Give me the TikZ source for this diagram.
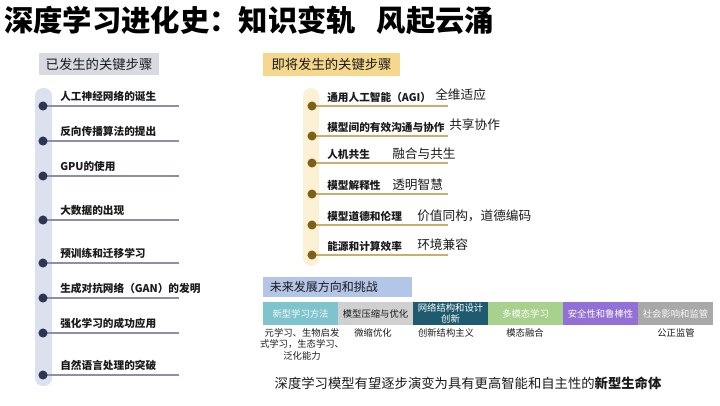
\documentclass[tikz,border=0pt]{standalone}
\usepackage{fontspec}
\setmainfont{Noto Sans CJK SC}
\definecolor{leftbar}{HTML}{DDE0EE}
\definecolor{leftdot}{HTML}{2F3453}
\definecolor{leftline}{HTML}{8A90A6}
\definecolor{hdrgray}{HTML}{D7DBE1}
\definecolor{hdrgold}{HTML}{F5D78E}
\definecolor{rightbar}{HTML}{FCF1D4}
\definecolor{rightdot}{HTML}{7B6118}
\definecolor{rightline}{HTML}{C9AE6E}
\definecolor{hdrblue}{HTML}{B4C6E7}
\definecolor{boxa}{HTML}{7FC4CD}
\definecolor{boxb}{HTML}{D0D0D0}
\definecolor{boxc}{HTML}{1F5B6E}
\definecolor{boxd}{HTML}{A8D18D}
\definecolor{boxe}{HTML}{9270D6}
\definecolor{boxf}{HTML}{A9A9A9}
\definecolor{ink}{HTML}{1A1A1A}
\begin{document}
\begin{tikzpicture}[x=0.75pt,y=-0.75pt,
  hdr/.style={inner sep=0pt, text=ink, font=\fontsize{10}{12}\selectfont},
  ldot/.style={circle, fill=leftdot, minimum size=6.8pt, inner sep=0pt},
  rdot/.style={circle, fill=rightdot, minimum size=6.8pt, inner sep=0pt},
  lline/.style={draw=leftline, line width=0.8pt},
  rline/.style={draw=rightline, line width=0.8pt},
  lab/.style={anchor=west, inner sep=0pt, text=ink, font=\fontsize{8}{10}\selectfont\bfseries},
  desc/.style={anchor=west, inner sep=0pt, text=ink, font=\fontsize{9.5}{11}\selectfont},
  cbox/.style={minimum width=56.25pt, minimum height=17.25pt, inner sep=0pt, align=center, font=\fontsize{7}{8}\selectfont},
  sub/.style={inner sep=0pt, align=center, text=ink, font=\fontsize{7}{8.6}\selectfont}
]
\useasboundingbox (0,0) rectangle (720,405);

% title
\node[anchor=west, inner sep=0pt, text=black, font=\fontsize{22}{24}\selectfont\bfseries] (title) at (4,20) {深度学习进化史：知识变轨\hspace{0.7em}风起云涌};

% left column
\node[hdr, fill=hdrgray, minimum width=90pt, minimum height=16.5pt] (lh) at (99,64) {已发生的关键步骤};
\fill[leftbar, rounded corners=6pt] (35,88) rectangle (52,386);
\foreach \i/\y/\t in {1/106/人工神经网络的诞生, 2/141/反向传播算法的提出, 3/176/GPU的使用, 4/220/大数据的出现, 5/263/预训练和迁移学习, 6/298/生成对抗网络（GAN）的发明, 7/333/强化学习的成功应用, 8/375/自然语言处理的突破}{
  \coordinate (le\i) at (179,\y);
  \draw[lline] (43,\y) -- (le\i);
  \node[ldot] (ld\i) at (43,\y) {};
  \node[lab] (ll\i) at (60,\y-9.5) {\t};
}

% right column
\node[hdr, fill=hdrgold, minimum width=102.75pt, minimum height=17.25pt] (rh) at (331.5,64.5) {即将发生的关键步骤};
\fill[rightbar, rounded corners=6pt] (303,88) rectangle (319,266);
\foreach \i/\y/\t in {1/106/通用人工智能（AGI）, 2/136/模型间的有效沟通与协作, 3/163/人机共生, 4/194/模型解释性, 5/225/模型道德和伦理, 6/255/能源和计算效率}{
  \coordinate (re\i) at (448,\y);
  \draw[rline] (312,\y) -- (re\i);
  \node[rdot] (rd\i) at (312,\y) {};
  \node[lab] (rl\i) at (327,\y-8.5) {\t};
}
\node[desc] (rs1) at (435,95) {全维适应};
\node[desc] (rs2) at (449,125) {共享协作};
\node[desc] (rs3) at (392,154) {融合与共生};
\node[desc] (rs4) at (392,185) {透明智慧};
\node[desc] (rs5) at (417,216) {价值同构，道德编码};
\node[desc] (rs6) at (417,245) {环境兼容};

% bottom section
\node[fill=hdrblue, anchor=west, minimum width=111.75pt, minimum height=15pt, inner xsep=5pt, inner ysep=0pt, text width=101.75pt, align=left, text=ink, font=\fontsize{9}{11}\selectfont] (bh) at (263,287) {未来发展方向和挑战};

\node[cbox, fill=boxa, text=white!92!boxa] (b1) at (300.5,313.5) {新型学习方法};
\node[cbox, fill=boxb, text=ink] (b2) at (375.5,313.5) {模型压缩与优化};
\node[cbox, fill=boxc, text=white] (b3) at (450.5,313.5) {网络结构和设计\\创新};
\node[cbox, fill=boxd, text=white] (b4) at (525.5,313.5) {多模态学习};
\node[cbox, fill=boxe, text=white] (b5) at (600.5,313.5) {安全性和鲁棒性};
\node[cbox, fill=boxf, text=white!92!boxf] (b6) at (675.5,313.5) {社会影响和监管};

\node[sub, anchor=north] (s1) at (302,328) {元学习、生物启发\\式学习，生态学习、\\泛化能力};
\node[sub, anchor=north] (s2) at (373,328) {微缩优化};
\node[sub, anchor=north] (s3) at (446,328) {创新结构主义};
\node[sub, anchor=north] (s4) at (525,328) {模态融合};
\node[sub, anchor=north] (s6) at (676,328) {公正监管};

\node[inner sep=0pt, text=ink, font=\fontsize{10}{12}\selectfont] (concl) at (468,383) {深度学习模型有望逐步演变为具有更高智能和自主性的\textbf{新型生命体}};
\end{tikzpicture}
\end{document}
